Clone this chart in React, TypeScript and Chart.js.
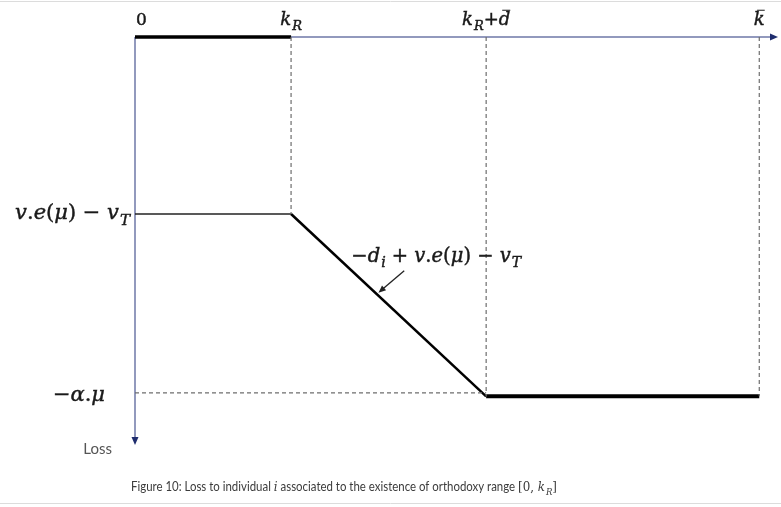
import React, { useEffect, useRef } from 'react';
import { Chart, registerables } from 'chart.js';

Chart.register(...registerables);

// ---- data (positions along the range axis and loss levels) ----
const xKeys = [0, 1, 2.25, 4]; // 0, k_R, k_R + d̄, k̄
const xTickLabels = ['0', 'k_{R}', 'k_{R}+~d', '~k'];
const yLevels = [0, -1, -2.03]; // 0, v.e(μ) − v_T, −α.μ
const yTickLabels = ['', 'v.e(μ) − v_{T}', '−α.μ'];
const xAxisMax = 4.12;
const yAxisMin = -2.305;

const lossTop = [
  { x: 0, y: 0 },
  { x: 1, y: 0 },
];
const lossLeftLevel = [
  { x: 0, y: -1 },
  { x: 1, y: -1 },
];
const lossSlope = [
  { x: 1, y: -1 },
  { x: 2.25, y: -2.03 },
];
const lossFloor = [
  { x: 2.25, y: -2.03 },
  { x: 4, y: -2.03 },
];
const guideKR = [
  { x: 1, y: 0 },
  { x: 1, y: -1 },
];
const guideKRd = [
  { x: 2.25, y: 0 },
  { x: 2.25, y: -2.03 },
];
const guideKbar = [
  { x: 4, y: 0 },
  { x: 4, y: -2.03 },
];
const guideFloor = [
  { x: 0, y: -2.01 },
  { x: 2.25, y: -2.01 },
];
const slopeLabelFull = '−d_{i} + v.e(μ) − v_{T}';
const slopeLabelAt = { x: 1.93, y: -1.27 };
const pointerFrom = { x: 1.725, y: -1.32 };
const pointerTo = { x: 1.56, y: -1.445 };
const axisTitle = 'Loss';
const captionParts = [
  { text: 'Figure 10: Loss to individual ', math: false },
  { text: 'i', math: true },
  { text: ' associated to the existence of orthodoxy range ', math: false },
  { text: '[0, k_{R}]', math: true },
];

// ---- rich text helpers ----
type Part = { t: string; sub?: boolean; bar?: boolean };

function parse(s: string): Part[] {
  const parts: Part[] = [];
  let i = 0;
  while (i < s.length) {
    const c = s[i];
    if (c === '_' && s[i + 1] === '{') {
      const end = s.indexOf('}', i);
      parts.push({ t: s.slice(i + 2, end), sub: true });
      i = end + 1;
    } else if (c === '~') {
      parts.push({ t: s[i + 1], bar: true });
      i += 2;
    } else {
      parts.push({ t: c });
      i += 1;
    }
  }
  return parts;
}

const SERIF = '"DejaVu Serif", "Liberation Serif", serif';

function partFont(p: Part, size: number) {
  const italic = /[A-Za-zα-ωμ]/.test(p.t);
  const sz = p.sub ? size * 0.72 : size;
  return `${italic ? 'italic ' : ''}${sz}px ${SERIF}`;
}

function richWidth(ctx: CanvasRenderingContext2D, s: string, size: number) {
  let w = 0;
  for (const p of parse(s)) {
    ctx.font = partFont(p, size);
    w += ctx.measureText(p.t).width + (p.sub ? 1 : 0);
  }
  return w;
}

function drawRich(
  ctx: CanvasRenderingContext2D,
  s: string,
  x: number,
  y: number,
  size: number,
  align: 'left' | 'center' | 'right',
  color = '#111',
  weight = 0.45
) {
  const w = richWidth(ctx, s, size);
  let cx = align === 'left' ? x : align === 'center' ? x - w / 2 : x - w;
  ctx.save();
  ctx.fillStyle = color;
  ctx.strokeStyle = color;
  ctx.textBaseline = 'alphabetic';
  ctx.textAlign = 'left';
  for (const p of parse(s)) {
    ctx.font = partFont(p, size);
    const pw = ctx.measureText(p.t).width;
    const dy = p.sub ? size * 0.28 : 0;
    if (p.sub) cx += 1;
    ctx.fillText(p.t, cx, y + dy);
    if (weight > 0) {
      ctx.lineWidth = weight;
      ctx.strokeText(p.t, cx, y + dy);
    }
    if (p.bar) {
      ctx.lineWidth = 1;
      ctx.beginPath();
      ctx.moveTo(cx + pw * 0.3, y - size * 0.82);
      ctx.lineTo(cx + pw * 1.0, y - size * 0.82);
      ctx.stroke();
    }
    cx += pw;
  }
  ctx.restore();
  return w;
}

const diagramPlugin = {
  id: 'diagram',
  beforeDatasetsDraw(chart: any) {
    const ctx: CanvasRenderingContext2D = chart.ctx;
    const xs = chart.scales.x;
    const ys = chart.scales.y;
    const x0 = xs.getPixelForValue(0);
    const y0 = ys.getPixelForValue(0);
    const xEnd = xs.getPixelForValue(xAxisMax);
    const yEnd = ys.getPixelForValue(yAxisMin);
    ctx.save();
    ctx.strokeStyle = '#dcdcdc';
    ctx.lineWidth = 1;
    ctx.beginPath();
    ctx.moveTo(0, 1.5);
    ctx.lineTo(chart.width, 1.5);
    ctx.moveTo(0, 503.5);
    ctx.lineTo(chart.width, 503.5);
    ctx.stroke();
    ctx.strokeStyle = '#6f78a8';
    ctx.lineWidth = 1.5;
    ctx.beginPath();
    ctx.moveTo(x0, y0);
    ctx.lineTo(xEnd - 6, y0);
    ctx.moveTo(x0, y0);
    ctx.lineTo(x0, yEnd - 6);
    ctx.stroke();
    ctx.fillStyle = '#1f2d6e';
    ctx.beginPath();
    ctx.moveTo(xEnd, y0);
    ctx.lineTo(xEnd - 8, y0 - 3.5);
    ctx.lineTo(xEnd - 8, y0 + 3.5);
    ctx.closePath();
    ctx.fill();
    ctx.beginPath();
    ctx.moveTo(x0, yEnd);
    ctx.lineTo(x0 - 3.5, yEnd - 8);
    ctx.lineTo(x0 + 3.5, yEnd - 8);
    ctx.closePath();
    ctx.fill();
    ctx.restore();
  },
  afterDatasetsDraw(chart: any) {
    const ctx: CanvasRenderingContext2D = chart.ctx;
    const xs = chart.scales.x;
    const ys = chart.scales.y;
    const x0 = xs.getPixelForValue(0);
    const y0 = ys.getPixelForValue(0);
    const yEnd = ys.getPixelForValue(yAxisMin);

    xKeys.forEach((v, i) => {
      const px = xs.getPixelForValue(v);
      const size = i === 0 ? 17 : 18;
      const w = richWidth(ctx, xTickLabels[i], size);
      const cx = Math.max(px, x0 + w / 2 + 1);
      drawRich(ctx, xTickLabels[i], cx, y0 - 12, size, 'center', '#1a1a1a');
    });

    yLevels.forEach((v, i) => {
      if (!yTickLabels[i]) return;
      const py = ys.getPixelForValue(v);
      const right = i === 1 ? x0 - 5 : x0 - 30;
      drawRich(ctx, yTickLabels[i], right, py + 5, 21, 'right', '#1a1a1a');
    });

    drawRich(
      ctx,
      slopeLabelFull,
      xs.getPixelForValue(slopeLabelAt.x),
      ys.getPixelForValue(slopeLabelAt.y),
      19.5,
      'center',
      '#1a1a1a'
    );

    const fx = xs.getPixelForValue(pointerFrom.x);
    const fy = ys.getPixelForValue(pointerFrom.y);
    const tx = xs.getPixelForValue(pointerTo.x);
    const ty = ys.getPixelForValue(pointerTo.y);
    const ang = Math.atan2(ty - fy, tx - fx);
    ctx.save();
    ctx.strokeStyle = '#222';
    ctx.fillStyle = '#222';
    ctx.lineWidth = 1.3;
    ctx.beginPath();
    ctx.moveTo(fx, fy);
    ctx.lineTo(tx - Math.cos(ang) * 6, ty - Math.sin(ang) * 6);
    ctx.stroke();
    ctx.beginPath();
    ctx.moveTo(tx, ty);
    ctx.lineTo(tx - Math.cos(ang - 0.4) * 8, ty - Math.sin(ang - 0.4) * 8);
    ctx.lineTo(tx - Math.cos(ang + 0.4) * 8, ty - Math.sin(ang + 0.4) * 8);
    ctx.closePath();
    ctx.fill();
    ctx.restore();

    ctx.save();
    ctx.font = '15px Lato, "Open Sans", sans-serif';
    ctx.fillStyle = '#555';
    ctx.textAlign = 'right';
    ctx.textBaseline = 'alphabetic';
    ctx.fillText(axisTitle, x0 - 23, yEnd + 9);
    ctx.restore();

    // caption, fitted to the original's width
    ctx.save();
    const capFont = '12.5px Lato, "Open Sans", sans-serif';
    const capColor = '#3c3c3c';
    const mathSize = 13;
    let total = 0;
    for (const p of captionParts) {
      if (p.math) total += richWidth(ctx, p.text, mathSize);
      else {
        ctx.font = capFont;
        total += ctx.measureText(p.text).width;
      }
    }
    const startX = 131;
    const targetW = 426;
    const sx = Math.min(1, targetW / total);
    ctx.translate(startX, 0);
    ctx.scale(sx, 1);
    ctx.fillStyle = capColor;
    ctx.textBaseline = 'alphabetic';
    ctx.textAlign = 'left';
    let cx = 0;
    const cy = 491;
    for (const p of captionParts) {
      if (p.math) cx += drawRich(ctx, p.text, cx, cy, mathSize, 'left', capColor, 0);
      else {
        ctx.font = capFont;
        ctx.fillStyle = capColor;
        ctx.fillText(p.text, cx, cy);
        cx += ctx.measureText(p.text).width;
      }
    }
    ctx.restore();
  },
};

export default function App() {
  const ref = useRef<HTMLCanvasElement | null>(null);
  useEffect(() => {
    if (!ref.current) return;
    const solid = (data: any[], width: number, color = '#000') => ({
      data,
      borderColor: color,
      borderWidth: width,
      pointRadius: 0,
      showLine: true,
      fill: false,
      clip: false as any,
      borderCapStyle: 'butt' as const,
    });
    const dashed = (data: any[]) => ({
      data,
      borderColor: '#6e6e6e',
      borderWidth: 1.2,
      borderDash: [4, 3],
      pointRadius: 0,
      showLine: true,
      fill: false,
      clip: false as any,
    });
    const chart = new Chart(ref.current, {
      type: 'scatter',
      data: {
        datasets: [
          dashed(guideKR),
          dashed(guideKRd),
          dashed(guideKbar),
          dashed(guideFloor),
          solid(lossLeftLevel, 1.3, '#222'),
          solid(lossTop, 3.5),
          solid(lossSlope, 2.5),
          solid(lossFloor, 4),
        ],
      },
      options: {
        animation: false,
        responsive: true,
        maintainAspectRatio: false,
        layout: { padding: { left: 135, right: 781 - 778, top: 37, bottom: 507 - 445 } },
        scales: {
          x: { type: 'linear', min: 0, max: xAxisMax, display: false },
          y: { type: 'linear', min: yAxisMin, max: 0, display: false },
        },
        plugins: { legend: { display: false }, tooltip: { enabled: false } },
      },
      plugins: [diagramPlugin],
    });
    return () => chart.destroy();
  }, []);
  return (
    <div style={{ position: 'fixed', left: 0, top: 0, width: 781, height: 507, background: '#fff' }}>
      <canvas ref={ref} />
    </div>
  );
}
